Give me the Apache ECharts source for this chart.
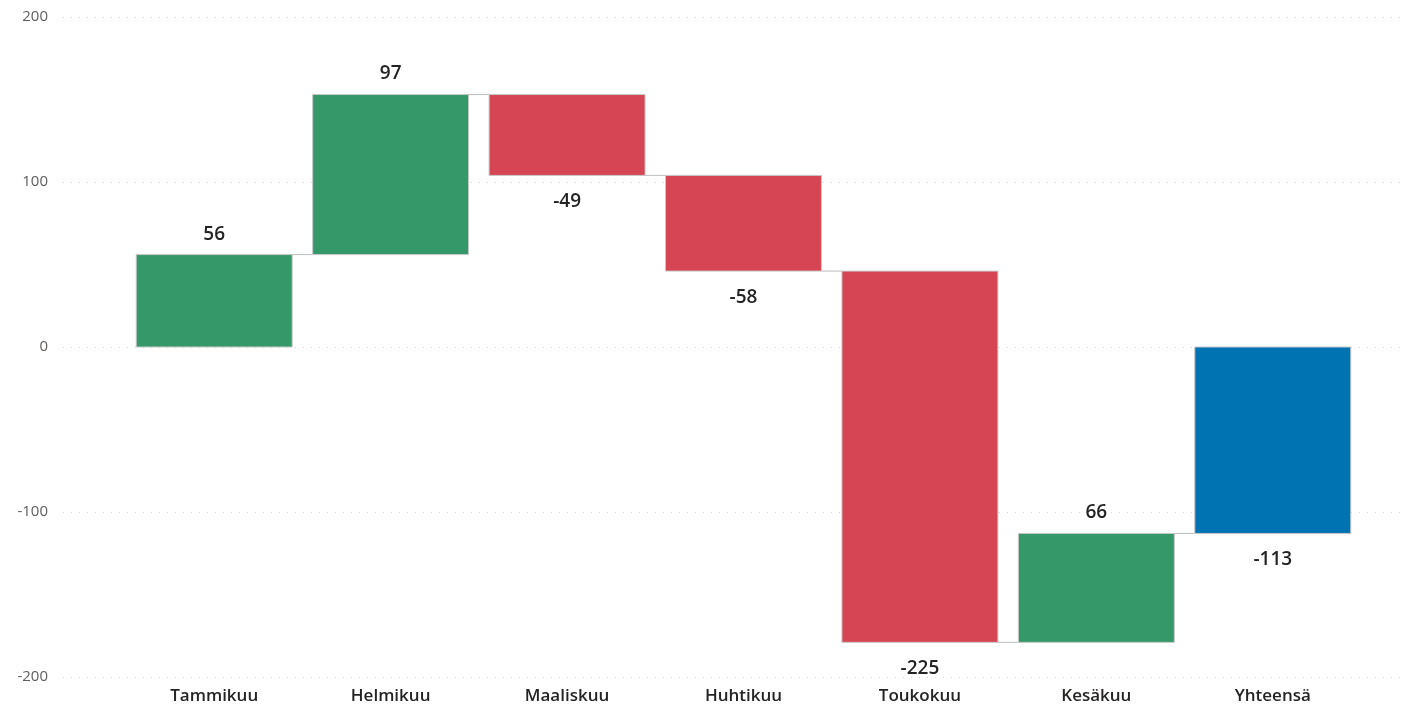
<!DOCTYPE html>
<html>
<head>
<meta charset="utf-8">
<script src="https://cdn.jsdelivr.net/npm/echarts@6/dist/echarts.min.js"></script>
<style>
  html, body { margin: 0; padding: 0; background: #fff; }
  #chart { width: 1404px; height: 710px; }
</style>
</head>
<body>
<div id="chart"></div>
<script>
var categories = ['Tammikuu', 'Helmikuu', 'Maaliskuu', 'Huhtikuu', 'Toukokuu', 'Kesäkuu', 'Yhteensä'];
var changes = [56, 97, -49, -58, -225, 66];
var totalValue = -113;
var yTicks = [-200, -100, 0, 100, 200];

var GREEN = '#349868';
var RED = '#d64553';
var BLUE = '#0073b3';

// build [index, start, end, value, kind]
var bars = [];
var running = 0;
changes.forEach(function (v, i) {
    bars.push([i, running, running + v, v, v >= 0 ? 'up' : 'down']);
    running += v;
});
bars.push([changes.length, 0, totalValue, totalValue, 'total']);

var BAR_RATIO = 0.884;

function renderItem(params, api) {
    var i = api.value(0);
    var start = api.value(1);
    var end = api.value(2);
    var val = api.value(3);
    var kind = bars[params.dataIndex][4];
    var band = api.size([1, 0])[0];
    var w = band * BAR_RATIO;
    var p0 = api.coord([i, start]);
    var p1 = api.coord([i, end]);
    var top = Math.min(p0[1], p1[1]);
    var h = Math.abs(p1[1] - p0[1]);
    var color = kind === 'total' ? BLUE : (kind === 'up' ? GREEN : RED);
    var children = [{
        type: 'rect',
        shape: { x: p0[0] - w / 2, y: top, width: w, height: h },
        style: { fill: color, stroke: '#c8c8c8', lineWidth: 1 }
    }];
    // connector to next bar
    if (params.dataIndex < bars.length - 1) {
        children.push({
            type: 'line',
            shape: { x1: p0[0] + w / 2, y1: p1[1], x2: p0[0] + band - w / 2, y2: p1[1] },
            style: { stroke: '#bdbdbd', lineWidth: 1 }
        });
    }
    var labelY = val >= 0 ? top - 11 : top + h + 17;
    children.push({
        type: 'text',
        x: p0[0],
        y: labelY,
        style: {
            text: String(val),
            fill: '#252423',
            font: '600 19px "Open Sans", "Noto Sans", sans-serif',
            align: 'center',
            verticalAlign: val >= 0 ? 'bottom' : 'top'
        }
    });
    return { type: 'group', children: children };
}

var dom = document.getElementById('chart');
var myChart = echarts.init(dom);

var option = {
    animation: false,
    grid: [
        { left: 63, right: 0, top: 17, bottom: 33 },
        { left: 126, right: 43, top: 17, bottom: 33 }
    ],
    xAxis: [
        { type: 'value', gridIndex: 0, show: false, min: 0, max: 1 },
        {
            type: 'category',
            gridIndex: 1,
            data: categories,
            axisLine: { show: false },
            axisTick: { show: false },
            axisLabel: {
                margin: 11,
                color: '#252423',
                fontSize: 17,
                fontWeight: 600,
                fontFamily: '"Open Sans", "Noto Sans", sans-serif'
            }
        }
    ],
    yAxis: [
        {
            type: 'value',
            gridIndex: 0,
            min: yTicks[0],
            max: yTicks[yTicks.length - 1],
            interval: 100,
            axisLine: { show: false },
            axisTick: { show: false },
            axisLabel: {
                margin: 15,
                color: '#605e5c',
                fontSize: 15,
                fontFamily: '"Open Sans", "Noto Sans", sans-serif'
            },
            splitLine: {
                lineStyle: { color: '#d6d6d6', type: [1, 7], width: 1 }
            }
        },
        {
            type: 'value',
            gridIndex: 1,
            min: yTicks[0],
            max: yTicks[yTicks.length - 1],
            interval: 100,
            show: false,
            splitLine: { show: false }
        }
    ],
    series: [{
        type: 'custom',
        xAxisIndex: 1,
        yAxisIndex: 1,
        renderItem: renderItem,
        encode: { x: 0, y: [1, 2] },
        data: bars.map(function (b) { return b.slice(0, 4); })
    }]
};

myChart.setOption(option);
window.addEventListener('resize', myChart.resize);
</script>
</body>
</html>
